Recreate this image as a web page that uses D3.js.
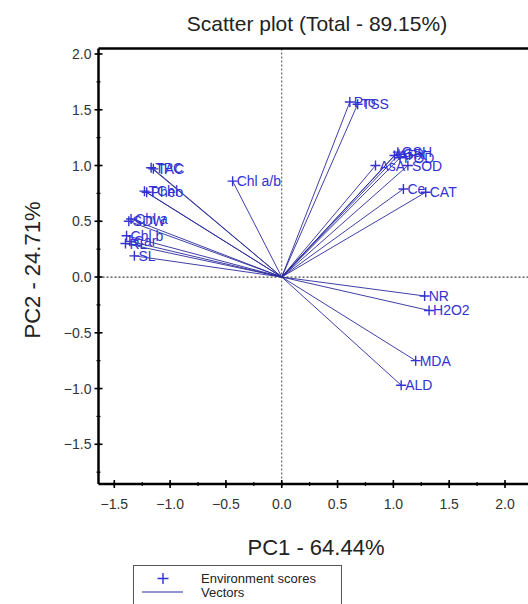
<!DOCTYPE html>
<html><head><meta charset="utf-8">
<script src="https://cdn.jsdelivr.net/npm/d3@7"></script>
<style>body{margin:0;background:#fff;} svg{display:block;font-family:"Liberation Sans",Arial,sans-serif;}</style>
</head><body><svg id="c" width="528" height="604"></svg>
<script>
const labels = ["TPC","TAC","Chl a/b","TChl","Pheo","Chl a","SDW","Chl b","RL","Car","SL","Pro","TSS","GSH","GR","APX","POD","AsA","SOD","Ce","CAT","NR","H2O2","MDA","ALD"];
const pc1 = [-1.17,-1.15,-0.44,-1.23,-1.21,-1.35,-1.37,-1.39,-1.40,-1.36,-1.32,0.61,0.68,1.04,1.05,1.01,1.06,0.84,1.13,1.09,1.29,1.28,1.32,1.20,1.07];
const pc2 = [0.98,0.97,0.86,0.77,0.76,0.52,0.50,0.37,0.30,0.32,0.19,1.57,1.55,1.12,1.10,1.09,1.07,1.00,1.00,0.79,0.76,-0.17,-0.30,-0.75,-0.97];
const xTicks = [-1.5,-1.0,-0.5,0.0,0.5,1.0,1.5,2.0];
const yTicks = [-1.5,-1.0,-0.5,0.0,0.5,1.0,1.5,2.0];
const title = "Scatter plot (Total - 89.15%)";
const xTitle = "PC1 - 64.44%";
const yTitle = "PC2 - 24.71%";
const legendItems = ["Environment scores","Vectors"];

const svg = d3.select("#c");
const x = d3.scaleLinear().domain([-1.5,2.0]).range([114.3,505]);
const y = d3.scaleLinear().domain([-1.5,2.0]).range([444.3,54]);
const x0 = x.invert(98.5), x1 = x.invert(540), y0 = y.invert(484), y1 = y.invert(48.5);
const blue = "#3232d2", lineBlue = "#2a2a9c";

// title
svg.append("text").attr("x",317).attr("y",31).attr("text-anchor","middle").attr("font-size",21).attr("fill","#222").text(title);

// dotted zero lines
svg.append("line").attr("x1",x(0)).attr("x2",x(0)).attr("y1",y(y1)).attr("y2",y(y0)).attr("stroke","#444").attr("stroke-width",1).attr("stroke-dasharray","2,2");
svg.append("line").attr("x1",x(x0)).attr("x2",x(x1)).attr("y1",y(0)).attr("y2",y(0)).attr("stroke","#444").attr("stroke-width",1.2).attr("stroke-dasharray","2,2");

// vectors
const g = svg.append("g");
labels.forEach((l,i)=>{
  g.append("line").attr("x1",x(0)).attr("y1",y(0)).attr("x2",x(pc1[i])).attr("y2",y(pc2[i])).attr("stroke",lineBlue).attr("stroke-width",0.9);
});
labels.forEach((l,i)=>{
  const px=x(pc1[i]), py=y(pc2[i]);
  g.append("path").attr("d",`M${px-5},${py}H${px+5}M${px},${py-5}V${py+5}`).attr("stroke",blue).attr("stroke-width",1.4);
  g.append("text").attr("x",px+4).attr("y",py+5).attr("font-size",14).attr("fill",blue).text(l);
});

// frame top
svg.append("line").attr("x1",x(x0)).attr("x2",540).attr("y1",y(y1)).attr("y2",y(y1)).attr("stroke","#000").attr("stroke-width",2.5);

// axes
const gx = svg.append("g").attr("transform",`translate(0,${y(y0)})`);
gx.append("line").attr("x1",x(x0)).attr("x2",540).attr("stroke","#000").attr("stroke-width",2.5);
const minorX = d3.range(-1.5,2.51,0.25);
gx.selectAll(".mt").data(minorX).join("line").attr("x1",d=>x(d)).attr("x2",d=>x(d)).attr("y1",-2).attr("y2",2).attr("stroke","#000").attr("stroke-width",1.2);
gx.selectAll(".Mt").data(xTicks).join("line").attr("x1",d=>x(d)).attr("x2",d=>x(d)).attr("y1",-4).attr("y2",4).attr("stroke","#000").attr("stroke-width",1.6);
gx.selectAll(".tl").data(xTicks).join("text").attr("x",d=>x(d)).attr("y",25).attr("text-anchor","middle").attr("font-size",14).attr("fill","#333").text(d=>d3.format(".1f")(d));

const gy = svg.append("g").attr("transform",`translate(${x(x0)},0)`);
gy.append("line").attr("y1",y(y1)).attr("y2",y(y0)).attr("stroke","#000").attr("stroke-width",2.5);
const minorY = d3.range(-1.75,2.01,0.25);
gy.selectAll(".mt").data(minorY).join("line").attr("y1",d=>y(d)).attr("y2",d=>y(d)).attr("x1",-2).attr("x2",2).attr("stroke","#000").attr("stroke-width",1.2);
gy.selectAll(".Mt").data(yTicks).join("line").attr("y1",d=>y(d)).attr("y2",d=>y(d)).attr("x1",-4).attr("x2",4).attr("stroke","#000").attr("stroke-width",1.6);
gy.selectAll(".tl").data(yTicks).join("text").attr("x",-7).attr("y",d=>y(d)+5).attr("text-anchor","end").attr("font-size",14).attr("fill","#333").text(d=>d3.format(".1f")(d));

// axis titles
svg.append("text").attr("x",316).attr("y",555).attr("text-anchor","middle").attr("font-size",22).attr("fill","#222").text(xTitle);
svg.append("text").attr("transform","translate(40,270) rotate(-90)").attr("text-anchor","middle").attr("font-size",22).attr("fill","#222").text(yTitle);

// legend
const lg = svg.append("g");
lg.append("rect").attr("x",133.5).attr("y",565.5).attr("width",208).attr("height",50).attr("fill","#fff").attr("stroke","#555").attr("stroke-width",1);
lg.append("path").attr("d","M163,573V584M157.5,578.5H168.5").attr("stroke",blue).attr("stroke-width",1.4);
lg.append("line").attr("x1",142).attr("x2",183).attr("y1",592).attr("y2",592).attr("stroke",lineBlue).attr("stroke-width",1.2);
lg.append("text").attr("x",201).attr("y",583).attr("font-size",13).attr("fill","#222").text(legendItems[0]);
lg.append("text").attr("x",201).attr("y",597).attr("font-size",13).attr("fill","#222").text(legendItems[1]);
</script></body></html>
